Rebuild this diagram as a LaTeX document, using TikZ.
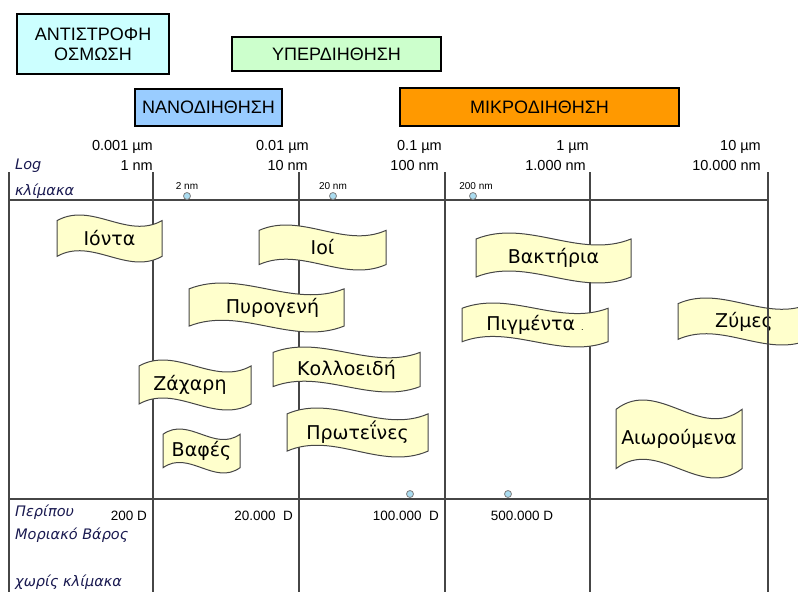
\documentclass[tikz,border=0pt]{standalone}
\usepackage{fontspec}
\setmainfont{Liberation Sans}
\newfontfamily\flagfont{DejaVu Sans}
\usetikzlibrary{positioning}
\definecolor{osmosisfill}{RGB}{204,255,255}
\definecolor{ultrafill}{RGB}{204,255,204}
\definecolor{nanofill}{RGB}{153,204,255}
\definecolor{microfill}{RGB}{255,153,0}
\definecolor{flagfill}{RGB}{255,255,204}
\definecolor{dotfill}{RGB}{170,220,240}
\definecolor{gridgray}{RGB}{70,70,70}
\definecolor{notenavy}{RGB}{25,25,80}

% wavy flag: [text shift], name, left, top, right, bottom, text
\newcommand\wavyflag[7][0]{%
  \pgfmathsetmacro\flagdip{0.12*(#6-#4)}%
  \pgfmathsetmacro\flagctl{3.46*\flagdip}%
  \pgfmathsetmacro\flagthird{(#5-#3)/3}%
  \filldraw[flagshape] (#3,{#4+\flagdip})
    .. controls ({#3+\flagthird},{#4+\flagdip-\flagctl}) and ({#3+2*\flagthird},{#4+\flagdip+\flagctl}) .. (#5,{#4+\flagdip})
    -- (#5,{#6-\flagdip})
    .. controls ({#3+2*\flagthird},{#6-\flagdip+\flagctl}) and ({#3+\flagthird},{#6-\flagdip-\flagctl}) .. (#3,{#6-\flagdip})
    -- cycle;
  \node[flagtext] (#2) at ({(#3+#5)/2+#1},{(#4+#6)/2}) {#7};
}

\begin{document}
\begin{tikzpicture}[
    x=1pt, y=-1pt,
    filterbox/.style = {rectangle, draw=black, line width=1.4pt, align=center,
                        inner sep=0pt, font=\fontsize{18}{20}\selectfont},
    flagshape/.style = {fill=flagfill, draw=gridgray, line width=1pt},
    flagtext/.style  = {inner sep=0pt, font=\flagfont\fontsize{19}{22}\selectfont},
    gridline/.style  = {draw=gridgray, line width=1.5pt},
    scalelabel/.style= {anchor=east, inner sep=0pt, font=\fontsize{14.5}{16}\selectfont},
    sizetag/.style   = {inner sep=0pt, font=\fontsize{10}{11}\selectfont},
    sizedot/.style   = {circle, draw=gray, fill=dotfill, line width=0.8pt,
                        inner sep=0pt, minimum size=7pt},
    massval/.style   = {inner sep=0pt, font=\fontsize{13.5}{15}\selectfont},
    axisnote/.style  = {anchor=west, inner sep=0pt, text=notenavy,
                        font=\flagfont\itshape\fontsize{14.5}{16}\selectfont},
]
\useasboundingbox (0,0) rectangle (798,592);

% membrane processes
\node[filterbox, fill=osmosisfill, minimum width=152pt, minimum height=60pt] (osmosis) at (93,44) {ΑΝΤΙΣΤΡΟΦΗ\\ΟΣΜΩΣΗ};
\node[filterbox, fill=ultrafill, minimum width=209pt, minimum height=34pt] (ultra) at (336.5,54) {ΥΠΕΡΔΙΗΘΗΣΗ};
\node[filterbox, fill=nanofill, minimum width=147pt, minimum height=37pt] (nano) at (208.5,107.5) {ΝΑΝΟΔΙΗΘΗΣΗ};
\node[filterbox, fill=microfill, minimum width=279pt, minimum height=38pt] (micro) at (539.5,107) {ΜΙΚΡΟΔΙΗΘΗΣΗ};

% scale grid
\draw[gridline] (9,172) -- (9,592);
\foreach \col in {153,299,445,590}
  \draw[gridline] (\col,172) -- (\col,592);
\draw[gridline] (9,200) -- (768,200);
\draw[gridline] (9,499) -- (768,499);

\foreach \ur/\nr/\um/\nm [count=\i] in {153/153/0.001/1, 309/308/0.01/10,
                                        442/439/0.1/100, 589/586/1/1.000, 761/761/10/10.000} {
  \node[scalelabel] (um\i) at (\ur,147) {\um\ µm};
  \node[scalelabel] (nm\i) at (\nr,166) {\nm\ nm};
}

\node[axisnote] (logword) at (15,166) {Log};
\node[axisnote] (logscale) at (15,191) {κλίμακα};

\node[sizedot] (d2)   at (187,196) {};
\node[sizedot] (d20)  at (333,196) {};
\node[sizedot] (d200) at (473,196) {};
\node[sizetag, above=2pt of d2]   (t2)   {2 nm};
\node[sizetag, above=2pt of d20]  (t20)  {20 nm};
\node[sizetag, above=2pt of d200, xshift=3pt] (t200) {200 nm};

% particles
\wavyflag{ions}{57}{215}{162}{262}{Ιόντα}
\wavyflag{viruses}{259}{225}{386}{270}{Ιοί}
\wavyflag[6]{pyrogens}{189}{283}{344}{332}{Πυρογενή}
\wavyflag{colloids}{273}{347}{420}{392}{Κολλοειδή}
\wavyflag[-5]{sugars}{139}{360}{251}{410}{Ζάχαρη}
\wavyflag{proteins}{287}{408}{428}{457}{Πρωτεΐνες}
\wavyflag{dyes}{163}{429}{240}{473}{Βαφές}
\wavyflag{bacteria}{476}{233}{631}{283}{Βακτήρια}
\wavyflag{pigments}{462}{303}{608}{347}{Πιγμέντα {\fontsize{8}{9}\selectfont .}}
\wavyflag{yeasts}{678}{298}{810}{345}{Ζύμες}
\wavyflag{aerosols}{616}{400}{742}{478}{Αιωρούμενα}

\draw[gridline] (768,172) -- (768,592);

% molecular weight
\node[sizedot] (m100k) at (410,494) {};
\node[sizedot] (m500k) at (508,494) {};
\node[massval, anchor=east] (w200)  at (147,516) {200 D};
\node[massval, anchor=east] (w20k)  at (293,516) {20.000~ D};
\node[massval, anchor=east] (w100k) at (439,516) {100.000~ D};
\node[massval] (w500k) at (522,516) {500.000 D};

\node[axisnote] (approx) at (15,512) {Περίπου};
\node[axisnote] (molwt)  at (15,535) {Μοριακό Βάρος};
\node[axisnote] (noscale) at (15,582) {χωρίς κλίμακα};
\end{tikzpicture}
\end{document}
